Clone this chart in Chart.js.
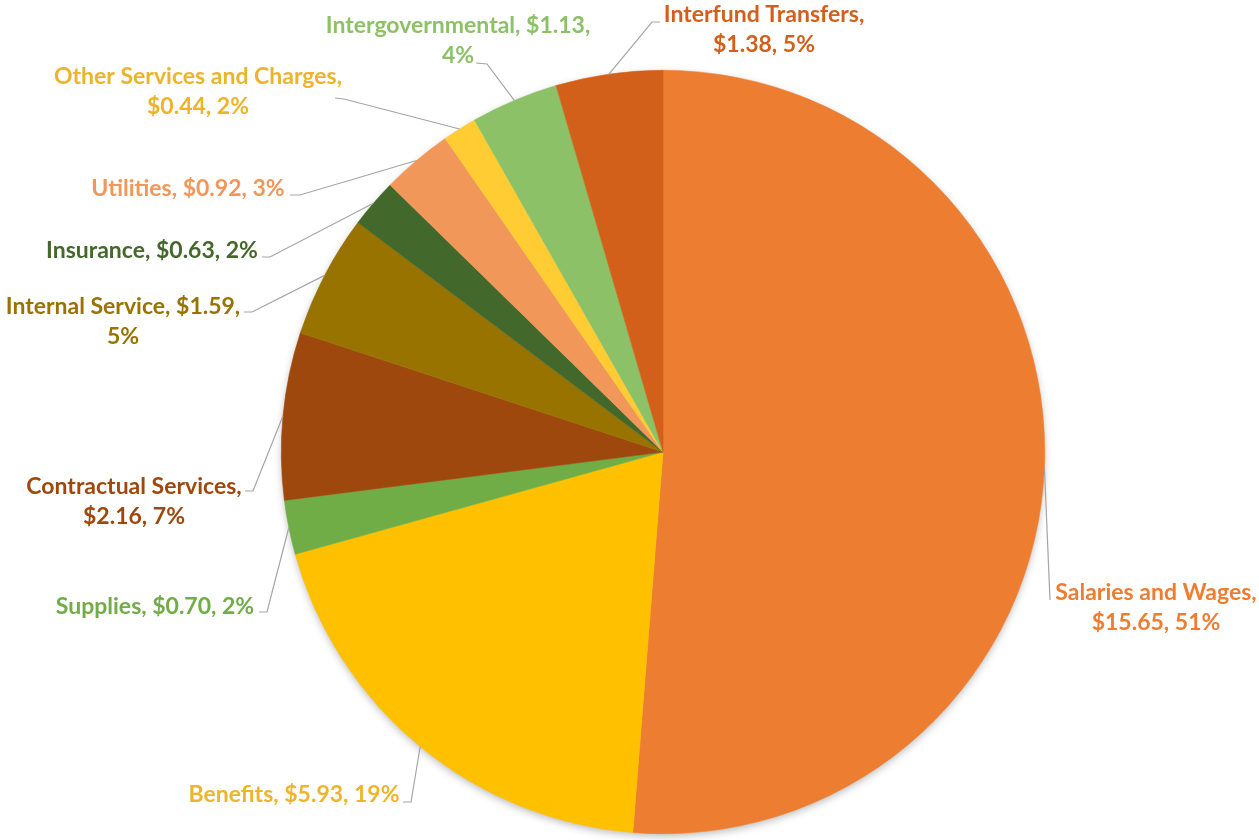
<!DOCTYPE html>
<html>
<head>
<meta charset="utf-8">
<title>Expenditures by Category</title>
<script src="https://cdn.jsdelivr.net/npm/chart.js@4.4.1/dist/chart.umd.min.js"></script>
<style>
  html, body { margin: 0; padding: 0; background: #ffffff; }
  #wrap { width: 1259px; height: 840px; position: relative; }
</style>
</head>
<body>
<div id="wrap"><canvas id="pie"></canvas></div>
<script>
// Expenditure categories, in $ millions, clockwise from 12 o'clock
const categories = [
  'Salaries and Wages', 'Benefits', 'Supplies', 'Contractual Services',
  'Internal Service', 'Insurance', 'Utilities', 'Other Services and Charges',
  'Intergovernmental', 'Interfund Transfers'
];
const amounts = [15.65, 5.93, 0.70, 2.16, 1.59, 0.63, 0.92, 0.44, 1.13, 1.38];
const percentLabels = ['51%', '19%', '2%', '7%', '5%', '2%', '3%', '2%', '4%', '5%'];

const sliceColors = [
  '#ED7D31', '#FFC000', '#70AD47', '#9E480E', '#997300',
  '#43682B', '#F1975A', '#FFCD33', '#8CC168', '#D2601A'
];
const labelColors = [
  '#ED7D31', '#EDB52C', '#70AD47', '#9E480E', '#997300',
  '#43682B', '#F1975A', '#EBB42A', '#8CC168', '#D2601A'
];

// Label placement: text centre (cx), middle of first line (y), where the
// line breaks (after name = 0, after amount = 1, none = -1), leader elbow and tick end.
const labelLayout = [
  { cx: 1156, y: 593, brk: 0,  elbow: [1050, 600], tick: [1050, 600] },
  { cx: 294,  y: 795, brk: -1, elbow: [411, 802],  tick: [403, 802] },
  { cx: 155,  y: 607, brk: -1, elbow: [267, 612],  tick: [259, 612] },
  { cx: 134,  y: 487, brk: 0,  elbow: [253, 491],  tick: [245, 491] },
  { cx: 123,  y: 307, brk: 1,  elbow: [252, 312],  tick: [244, 312] },
  { cx: 152,  y: 251, brk: -1, elbow: [270, 257],  tick: [262, 257] },
  { cx: 188,  y: 189, brk: -1, elbow: [300, 195],  tick: [290, 195] },
  { cx: 198,  y: 77,  brk: 0,  elbow: [344, 99],   tick: [335, 98] },
  { cx: 458,  y: 26,  brk: 1,  elbow: [487, 64],   tick: [476, 63] },
  { cx: 764,  y: 15,  brk: 0,  elbow: [652, 22],   tick: [660, 22] }
];

const LABEL_FONT = 'bold 23px Lato, "Open Sans", sans-serif';
const LINE_GAP = 30;

function labelLines(i) {
  const name = categories[i] + ',';
  const amt = '$' + amounts[i].toFixed(2) + ',';
  const pct = percentLabels[i];
  const b = labelLayout[i].brk;
  if (b === 0) return [name, amt + ' ' + pct];
  if (b === 1) return [name + ' ' + amt, pct];
  return [name + ' ' + amt + ' ' + pct];
}

// Soft shadow beneath the whole pie
const pieShadow = {
  id: 'pieShadow',
  beforeDatasetsDraw(chart) {
    const arc = chart.getDatasetMeta(0).data[0];
    if (!arc) return;
    const { x, y, outerRadius } = arc.getProps(['x', 'y', 'outerRadius'], true);
    const ctx = chart.ctx;
    ctx.save();
    ctx.shadowColor = 'rgba(0,0,0,0.30)';
    ctx.shadowBlur = 9;
    ctx.shadowOffsetY = 3;
    ctx.beginPath();
    ctx.arc(x, y, outerRadius - 1, 0, Math.PI * 2);
    ctx.fillStyle = '#ffffff';
    ctx.fill();
    ctx.restore();
  }
};

// Data labels with leader lines from each slice's outer mid-point
const sliceLabels = {
  id: 'sliceLabels',
  afterDatasetsDraw(chart) {
    const ctx = chart.ctx;
    const meta = chart.getDatasetMeta(0);
    ctx.save();
    meta.data.forEach((arc, i) => {
      const p = arc.getProps(['x', 'y', 'startAngle', 'endAngle', 'outerRadius'], true);
      const mid = (p.startAngle + p.endAngle) / 2;
      const sx = p.x + Math.cos(mid) * p.outerRadius;
      const sy = p.y + Math.sin(mid) * p.outerRadius;
      const L = labelLayout[i];
      ctx.beginPath();
      ctx.moveTo(sx, sy);
      ctx.lineTo(L.elbow[0], L.elbow[1]);
      ctx.lineTo(L.tick[0], L.tick[1]);
      ctx.strokeStyle = '#A5A5A5';
      ctx.lineWidth = 1.2;
      ctx.stroke();

      ctx.font = LABEL_FONT;
      ctx.fillStyle = labelColors[i];
      ctx.textAlign = 'center';
      ctx.textBaseline = 'middle';
      labelLines(i).forEach((t, k) => {
        ctx.fillText(t, L.cx, L.y + k * LINE_GAP);
      });
    });
    ctx.restore();
  }
};

new Chart(document.getElementById('pie'), {
  type: 'pie',
  data: {
    labels: categories,
    datasets: [{
      data: amounts,
      backgroundColor: sliceColors,
      borderColor: sliceColors,
      borderWidth: 0.6
    }]
  },
  options: {
    responsive: true,
    maintainAspectRatio: false,
    animation: false,
    events: [],
    layout: { padding: { top: 70, bottom: 6, left: 281, right: 214 } },
    plugins: {
      legend: { display: false },
      tooltip: { enabled: false }
    }
  },
  plugins: [pieShadow, sliceLabels]
});
</script>
</body>
</html>
